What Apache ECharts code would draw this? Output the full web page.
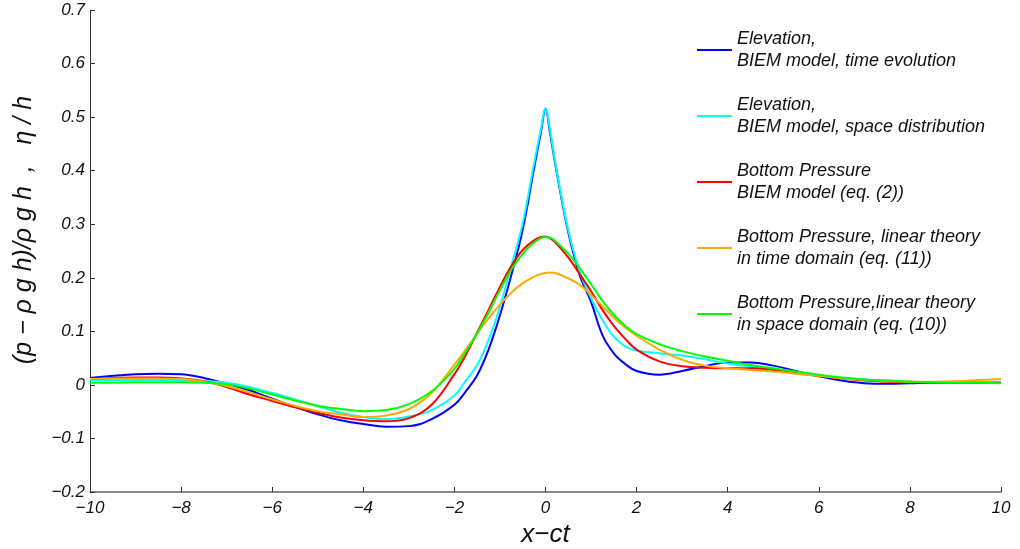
<!DOCTYPE html>
<html>
<head>
<meta charset="utf-8">
<script src="https://cdn.jsdelivr.net/npm/echarts@6/dist/echarts.min.js"></script>
<style>html,body{margin:0;padding:0;background:#fff;}#c{width:1020px;height:549px;}</style>
</head>
<body>
<div id="c"></div>
<script>
const xs = [-10,-9.5,-9,-8.5,-8,-7.5,-7,-6.5,-6,-5.5,-5,-4.5,-4,-3.5,-3,-2.5,-2,-1.75,-1.5,-1.25,-1,-0.75,-0.5,-0.25,-0.1,0,0.1,0.25,0.5,0.75,1,1.25,1.5,1.75,2,2.5,3,3.5,4,4.5,5,5.5,6,6.5,7,7.5,8,8.5,9,9.5,10];

const elevTime = [0.013,0.017,0.020,0.021,0.020,0.013,0.002,-0.010,-0.026,-0.041,-0.055,-0.066,-0.073,-0.078,-0.077,-0.064,-0.037,-0.012,0.018,0.066,0.130,0.205,0.290,0.405,0.472,0.515,0.470,0.395,0.285,0.205,0.155,0.093,0.059,0.039,0.026,0.019,0.026,0.035,0.042,0.042,0.036,0.026,0.016,0.008,0.003,0.002,0.003,0.004,0.004,0.004,0.004];

const elevSpace = [0.009,0.009,0.009,0.009,0.008,0.007,0.004,-0.004,-0.015,-0.027,-0.040,-0.052,-0.060,-0.064,-0.059,-0.047,-0.020,0.008,0.037,0.084,0.146,0.222,0.302,0.414,0.478,0.517,0.475,0.398,0.289,0.212,0.162,0.121,0.090,0.072,0.064,0.059,0.055,0.048,0.040,0.034,0.028,0.021,0.017,0.013,0.010,0.008,0.006,0.005,0.005,0.004,0.004];

const pressBIEM = [0.011,0.013,0.014,0.014,0.012,0.007,-0.004,-0.018,-0.030,-0.042,-0.052,-0.061,-0.066,-0.068,-0.062,-0.037,0.020,0.056,0.098,0.140,0.183,0.222,0.252,0.270,0.276,0.277,0.274,0.263,0.238,0.207,0.175,0.140,0.110,0.086,0.066,0.044,0.035,0.032,0.031,0.031,0.028,0.022,0.017,0.012,0.008,0.006,0.005,0.005,0.004,0.004,0.004];

const pressLinTime = [0.011,0.012,0.012,0.012,0.011,0.006,-0.002,-0.014,-0.027,-0.039,-0.049,-0.055,-0.060,-0.057,-0.045,-0.015,0.038,0.066,0.096,0.124,0.150,0.172,0.190,0.202,0.207,0.209,0.210,0.208,0.199,0.187,0.168,0.147,0.126,0.107,0.092,0.066,0.047,0.036,0.031,0.028,0.025,0.021,0.017,0.012,0.009,0.007,0.006,0.006,0.007,0.009,0.011];

const pressLinSpace = [0.004,0.004,0.005,0.005,0.005,0.004,0.001,-0.007,-0.018,-0.029,-0.039,-0.045,-0.049,-0.047,-0.036,-0.012,0.030,0.062,0.096,0.135,0.177,0.215,0.245,0.266,0.274,0.276,0.275,0.266,0.245,0.218,0.188,0.157,0.131,0.110,0.095,0.076,0.063,0.053,0.045,0.037,0.031,0.025,0.019,0.014,0.010,0.008,0.006,0.005,0.004,0.004,0.003];

const seriesNames = [
  'Elevation,\nBIEM model, time evolution',
  'Elevation,\nBIEM model, space distribution',
  'Bottom Pressure\nBIEM model (eq. (2))',
  'Bottom Pressure, linear theory\nin time domain (eq. (11))',
  'Bottom Pressure,linear theory\nin space domain (eq. (10))'
];
const seriesColors = ['#0000ff','#00ffff','#ff0000','#ffaa00','#00ff00'];
const seriesData = [elevTime, elevSpace, pressBIEM, pressLinTime, pressLinSpace];

const font = 'Liberation Sans, Arial, Helvetica, sans-serif';
const minus = s => String(s).replace('-', '\u2212');

const chart = echarts.init(document.getElementById('c'), null, {renderer: 'canvas'});
chart.setOption({
  animation: false,
  backgroundColor: '#fff',
  grid: {left: 90, right: 19, top: 10, bottom: 57, containLabel: false, outerBoundsMode: 'none'},
  legend: {
    orient: 'vertical',
    left: 697, top: 17,
    padding: 0,
    itemGap: 0,
    itemWidth: 35,
    itemHeight: 14,
    textStyle: {
      fontFamily: font, fontStyle: 'italic', fontSize: 18, color: '#111',
      lineHeight: 22, padding: [22, 0, 0, 0]
    },
    data: seriesNames.map((n, i) => ({name: n, icon: 'path://M0,0 L35,0 L35,2 L0,2 Z', itemStyle: {color: seriesColors[i], opacity: 1}}))
  },
  xAxis: {
    type: 'value', min: -10, max: 10, interval: 2,
    name: 'x\u2212ct', nameLocation: 'middle', nameGap: 26,
    nameTextStyle: {fontFamily: font, fontStyle: 'italic', fontSize: 26, color: '#111'},
    axisLine: {show: true, onZero: false, lineStyle: {color: '#666', width: 1.5}},
    axisTick: {show: true, inside: true, length: 5, lineStyle: {color: '#333'}},
    axisLabel: {fontFamily: font, fontStyle: 'italic', fontSize: 17, color: '#111', margin: 8, formatter: v => minus(v)},
    splitLine: {show: false}
  },
  yAxis: {
    type: 'value', min: -0.2, max: 0.7, interval: 0.1,
    name: '(p \u2212 \u03c1 g h)/\u03c1 g h  ,   \u03b7 / h', nameLocation: 'middle', nameGap: 53, nameRotate: 90,
    nameTextStyle: {fontFamily: font, fontStyle: 'italic', fontSize: 25, color: '#111', padding: [0, 0, 0, 42]},
    axisLine: {show: true, onZero: false, lineStyle: {color: '#333', width: 1}},
    axisTick: {show: true, inside: true, length: 5, lineStyle: {color: '#333'}},
    axisLabel: {fontFamily: font, fontStyle: 'italic', fontSize: 17, color: '#111', margin: 5,
      formatter: v => { const r = Math.round(v * 10) / 10; return r === 0 ? '0' : minus(r.toFixed(1)); }},
    splitLine: {show: false}
  },
  series: seriesNames.map((n, i) => ({
    name: n, type: 'line', showSymbol: false, smooth: 0.4,
    lineStyle: {color: seriesColors[i], width: 2},
    itemStyle: {color: seriesColors[i]},
    data: xs.map((x, j) => [x, seriesData[i][j]])
  }))
});
</script>
</body>
</html>
